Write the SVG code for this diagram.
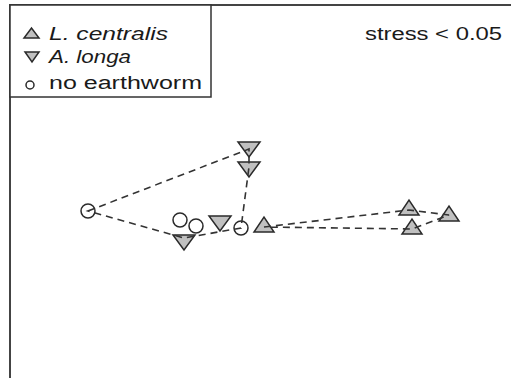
<svg xmlns="http://www.w3.org/2000/svg" width="511" height="378" viewBox="0 0 511 378">
<style>
.frame{fill:none;stroke:#444;stroke-width:2}
.leg{fill:#fff;stroke:#333;stroke-width:1.5}
.con{fill:none;stroke:#333;stroke-width:1.6;stroke-dasharray:7 5}
.tri{fill:#c0c0c0;stroke:#2a2a2a;stroke-width:1.5;stroke-linejoin:miter}
.circ{fill:none;stroke:#2a2a2a;stroke-width:1.5}
.txt{font-family:"Liberation Sans",Arial,sans-serif;font-size:18px;fill:#1a1a1a}
.it{font-style:italic}
</style>
<rect width="511" height="378" fill="#fff"/>
<path class="frame" d="M10,378 V5 H511"/>
<g id="legend">
<rect class="leg" x="10" y="5" width="201" height="92"/>
<polygon class="tri" points="24,38 39,38 31.5,28"/>
<polygon class="tri" points="25,52 39,52 32,62"/>
<circle class="circ" cx="30" cy="85" r="4"/>
<text class="txt it" x="49" y="40" textLength="119" lengthAdjust="spacingAndGlyphs">L. centralis</text>
<text class="txt it" x="49" y="63" textLength="82" lengthAdjust="spacingAndGlyphs">A. longa</text>
<text class="txt" x="49" y="89" textLength="153" lengthAdjust="spacingAndGlyphs">no earthworm</text>
</g>
<g id="stress">
<text class="txt" x="365" y="40" textLength="137" lengthAdjust="spacingAndGlyphs">stress &lt; 0.05</text>
</g>
<g id="points">
<circle id="n1" class="circ" cx="88" cy="211" r="7"/>
<circle id="n2" class="circ" cx="180" cy="220" r="7"/>
<circle id="n3" class="circ" cx="196" cy="226" r="7"/>
<circle id="n4" class="circ" cx="241" cy="228" r="7"/>
<polygon id="a1" class="tri" points="238,142 260,142 249,157"/>
<polygon id="a2" class="tri" points="238,162 260,162 249,177"/>
<polygon id="a3" class="tri" points="209,216 231,216 220,231"/>
<polygon id="a4" class="tri" points="173,235 195,235 184,250"/>
<polygon id="l1" class="tri" points="254,232 274,232 264,217"/>
<polygon id="l2" class="tri" points="399,215 419,215 409,200"/>
<polygon id="l3" class="tri" points="439,221 459,221 449,206"/>
<polygon id="l4" class="tri" points="402,234 422,234 412,219"/>
</g>
<g id="connectors">
<path class="con" d="M88,211 L249,149 L249,167 L241,228 L184,238 Z"/>
<path class="con" d="M264,227 L409,210 L449,215 L412,229 Z"/>
</g>
</svg>
